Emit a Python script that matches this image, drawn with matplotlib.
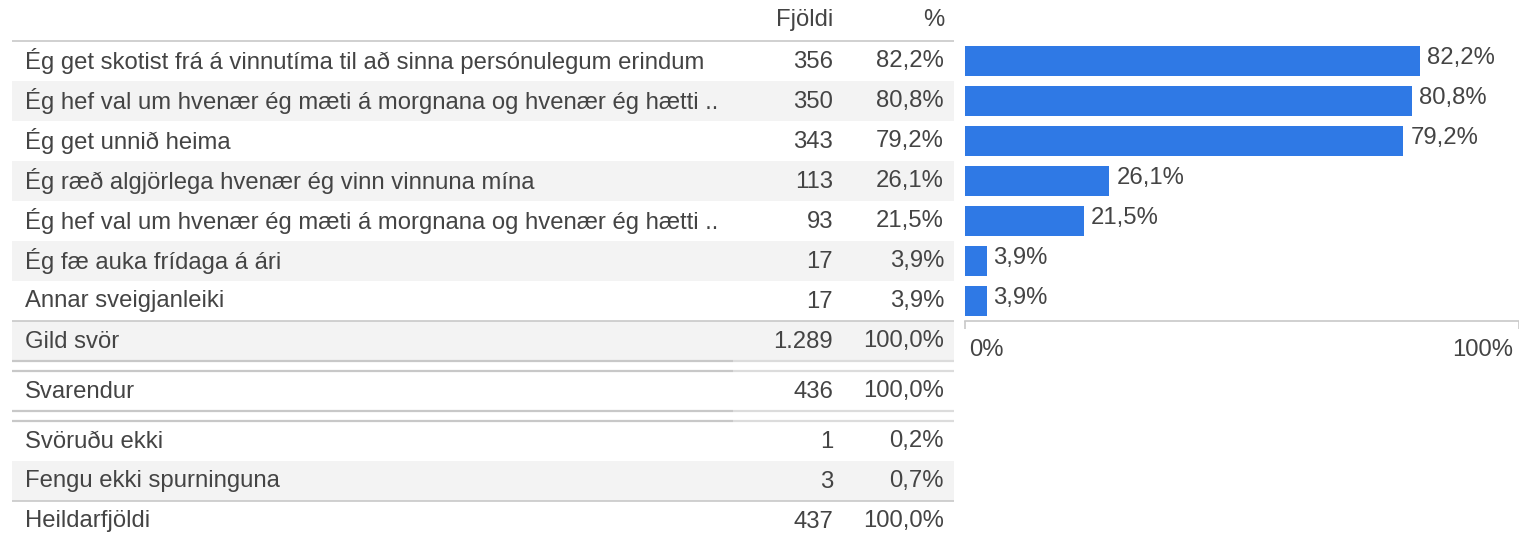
import matplotlib
matplotlib.use("Agg")
import matplotlib.pyplot as plt
import matplotlib.patches as mpatches
import matplotlib.transforms as mtransforms

plt.rcParams.update({
    "font.family": ["Liberation Sans", "DejaVu Sans"],
    "font.size": 17.2,
})

TEXT_COLOR = "#444444"
BAR_COLOR = "#2f79e5"
SHADE_COLOR = "#f3f3f3"
LINE_DARK = "#c8c8c8"
LINE_LIGHT = "#dcdcdc"

# Answer options and counts
labels = [
    "Ég get skotist frá á vinnutíma til að sinna persónulegum erindum",
    "Ég hef val um hvenær ég mæti á morgnana og hvenær ég hætti ..",
    "Ég get unnið heima",
    "Ég ræð algjörlega hvenær ég vinn vinnuna mína",
    "Ég hef val um hvenær ég mæti á morgnana og hvenær ég hætti ..",
    "Ég fæ auka frídaga á ári",
    "Annar sveigjanleiki",
]
counts = [356, 350, 343, 113, 93, 17, 17]
pcts = [82.2, 80.8, 79.2, 26.1, 21.5, 3.9, 3.9]

# Summary rows below the options
summary_labels = ["Gild svör", "Svarendur", "Svöruðu ekki", "Fengu ekki spurninguna", "Heildarfjöldi"]
summary_counts = [1289, 436, 1, 3, 437]
summary_pcts = [100.0, 100.0, 0.2, 0.7, 100.0]

col_headers = ["Fjöldi", "%"]


def fmt_count(n):
    return f"{n:,}".replace(",", ".")


def fmt_pct(v):
    return f"{v:.1f}".replace(".", ",") + "%"


W, H = 1519, 535
fig = plt.figure(figsize=(W / 100, H / 100), dpi=100)
fig.patch.set_facecolor("white")

# Table drawn in pixel coordinates
tab = fig.add_axes([0, 0, 1, 1])
tab.set_xlim(0, W)
tab.set_ylim(H, 0)
tab.axis("off")

x_left, x_right = 12, 954
x_split = 733
x_label = 25
x_count = 833
x_pct = 944
row_h = 40

rows = []
for i, (lab, c, p) in enumerate(zip(labels, counts, pcts)):
    rows.append((41 + row_h * i, lab, c, p, i % 2 == 1))
summary_tops = [321, 371, 421, 461, 501]
summary_shade = [True, False, False, True, False]
for top, lab, c, p, sh in zip(summary_tops, summary_labels, summary_counts, summary_pcts, summary_shade):
    rows.append((top, lab, c, p, sh))

for top, lab, c, p, shade in rows:
    if shade:
        tab.add_patch(mpatches.Rectangle((x_left, top), x_right - x_left, row_h,
                                         facecolor=SHADE_COLOR, edgecolor="none"))
    yc = top + row_h / 2 + 0.5
    tab.text(x_label, yc, lab, ha="left", va="center", color=TEXT_COLOR)
    tab.text(x_count, yc, fmt_count(c), ha="right", va="center", color=TEXT_COLOR)
    tab.text(x_pct, yc, fmt_pct(p), ha="right", va="center", color=TEXT_COLOR)

# Headers
tab.text(x_count, 20, col_headers[0], ha="right", va="center", color=TEXT_COLOR)
tab.text(x_pct, 20, col_headers[1], ha="right", va="center", color=TEXT_COLOR)

# Separator lines
tab.hlines([41, 321, 501], x_left, x_right, color=LINE_DARK, linewidth=1.2)
for y in [361, 371, 411, 421]:
    tab.hlines(y, x_left, x_split, color=LINE_DARK, linewidth=1.6)
    tab.hlines(y, x_split, x_right, color=LINE_LIGHT, linewidth=1.6)

# Bar chart
ax = fig.add_axes([965 / W, (H - 321) / H, 553.5 / W, 280 / H])
ypos = list(range(len(pcts)))
ax.barh(ypos, pcts, height=0.75, color=BAR_COLOR)
ax.set_xlim(0, 100)
ax.set_ylim(len(pcts) - 0.5, -0.5)
for y, p in zip(ypos, pcts):
    ax.annotate(fmt_pct(p), (p, y), xytext=(5, 2), textcoords="offset points",
                ha="left", va="center", color=TEXT_COLOR)

for side in ["top", "right", "left"]:
    ax.spines[side].set_visible(False)
ax.spines["bottom"].set_color(LINE_DARK)
ax.spines["bottom"].set_linewidth(1.2)
ax.set_yticks([])
ax.set_xticks([0, 100])
ax.set_xticklabels(["0%", "100%"], color=TEXT_COLOR)
ax.tick_params(axis="x", length=6, width=1.2, color=LINE_DARK, pad=7)
tl = ax.get_xticklabels()
tl[0].set_horizontalalignment("left")
tl[1].set_horizontalalignment("right")
tl[0].set_transform(tl[0].get_transform() + mtransforms.ScaledTranslation(4 / 100, 0, fig.dpi_scale_trans))
tl[1].set_transform(tl[1].get_transform() + mtransforms.ScaledTranslation(-5 / 100, 0, fig.dpi_scale_trans))
ax.patch.set_alpha(0)

fig.savefig("out.png", dpi=100, facecolor="white")
